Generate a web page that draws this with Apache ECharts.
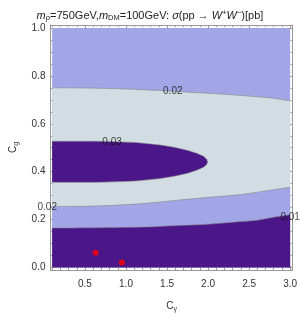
<!DOCTYPE html>
<html><head><meta charset="utf-8">
<script src="https://cdn.jsdelivr.net/npm/echarts@6/dist/echarts.min.js"></script>
<style>html,body{margin:0;padding:0;background:#fff}#c{width:300px;height:318px}</style>
</head><body><div id="c"></div>
<script>
// ---- data (C_gamma, C_g) ----
const topEdge = [[0.1,1.0],[3.0,1.0]];
const upper002 = [[0.1,0.75],[0.5,0.749],[1.0,0.745],[1.5,0.737],[2.0,0.727],[2.4,0.718],[2.8,0.706],[3.0,0.695]];
const ellipseUpper = [[0.1,0.527],[0.645,0.527],[1.107,0.522],[1.42,0.511],[1.6,0.501],[1.751,0.489],[1.869,0.476],[1.949,0.463],[1.982,0.452],[1.995,0.441]];
const ellipseLower = [[0.1,0.356],[0.645,0.356],[1.107,0.361],[1.42,0.372],[1.6,0.382],[1.751,0.394],[1.869,0.407],[1.949,0.42],[1.982,0.43],[1.995,0.441]];
const lower002 = [[0.1,0.255],[0.5,0.256],[0.8,0.259],[1.2,0.267],[1.6,0.28],[2.0,0.293],[2.4,0.305],[2.8,0.325],[3.0,0.335]];
const lower001 = [[0.1,0.165],[0.6,0.166],[1.2,0.169],[1.6,0.175],[2.0,0.181],[2.4,0.192],[2.6,0.198],[2.8,0.21],[3.0,0.22]];
const redPoints = [[0.63,0.062],[0.95,0.021]];
const contourLabelText = ['0.02','0.03','0.02','0.01'];
const contourLabelX = [1.57, 0.83, 0.04, 3.0];
const contourLabelY = [0.735, 0.522, 0.253, 0.212];
const xMajor = [0.5,1.0,1.5,2.0,2.5,3.0];
const xMinor = [0.1,0.2,0.3,0.4,0.6,0.7,0.8,0.9,1.1,1.2,1.3,1.4,1.6,1.7,1.8,1.9,2.1,2.2,2.3,2.4,2.6,2.7,2.8,2.9];
const yMajor = [0.0,0.2,0.4,0.6,0.8,1.0];
const yMinor = [0.05,0.1,0.15,0.25,0.3,0.35,0.45,0.5,0.55,0.65,0.7,0.75,0.85,0.9,0.95];

const DARK = '#4b1688', GRAY = '#d2dde3', PERI = '#a3a6e6';
const LINE = 'rgba(130,130,130,0.7)';
const FONT = 'Liberation Sans';
const X0 = 0.08, X1 = 3.03, Y0 = -0.01, Y1 = 1.012;

function area(data, color, lineW, z) {
  return {type:'line', data:data, smooth:0.3, symbol:'none', xAxisIndex:0, yAxisIndex:0, z:z,
    lineStyle:{width:lineW, color:LINE}, areaStyle:{color:color, opacity:1, origin:'auto'},
    silent:true, animation:false};
}
function outline(data) {
  return {type:'line', data:data, smooth:0.2, symbol:'none', xAxisIndex:0, yAxisIndex:0,
    lineStyle:{width:0.8, color:LINE}, silent:true, animation:false, z:4};
}
function xAx(pos, ticks, len, showLine, labels) {
  return {type:'value', position:pos, min:X0, max:X1, splitLine:{show:false},
    axisLine:{show:showLine, onZero:false, lineStyle:{color:'#999', width:1}},
    axisTick:{show:true, inside:true, length:len, customValues:ticks, lineStyle:{color:'#999'}},
    axisLabel: labels ? {show:true, customValues:ticks, formatter:v=>v.toFixed(1), color:'#333', fontSize:10, fontFamily:FONT, margin:9} : {show:false}};
}
function yAx(pos, ticks, len, showLine, labels) {
  return {type:'value', position:pos, min:Y0, max:Y1, splitLine:{show:false},
    axisLine:{show:showLine, onZero:false, lineStyle:{color:'#999', width:1}},
    axisTick:{show:true, inside:true, length:len, customValues:ticks, lineStyle:{color:'#999'}},
    axisLabel: labels ? {show:true, customValues:ticks, formatter:v=>v.toFixed(1), color:'#333', fontSize:10, fontFamily:FONT, margin:5} : {show:false}};
}
const subRich = {c:{fontSize:10, fontFamily:FONT, color:'#333'}, s:{fontSize:7, fontFamily:FONT, color:'#333', padding:[6,0,0,0]}};
const xAxes = [xAx('bottom', xMajor, 4, true, true), xAx('bottom', xMinor, 2, false, false),
               xAx('top', xMajor, 4, true, false), xAx('top', xMinor, 2, false, false)];
Object.assign(xAxes[0], {name:'{c|C}{s|γ}', nameLocation:'middle', nameGap:30, nameTextStyle:{color:'#333', fontFamily:FONT, rich:subRich}});
const yAxes = [yAx('left', yMajor, 4, true, true), yAx('left', yMinor, 2, false, false),
               yAx('right', yMajor, 4, true, false), yAx('right', yMinor, 2, false, false)];
Object.assign(yAxes[0], {name:'{c|C}{s|g}', nameLocation:'middle', nameGap:31, nameTextStyle:{color:'#333', fontFamily:FONT, rich:subRich}});

const labelData = contourLabelText.map((t,i)=>[contourLabelX[i], contourLabelY[i], t]);

const chart = echarts.init(document.getElementById('c'), null, {renderer:'canvas'});
chart.setOption({
  animation:false,
  backgroundColor:'#fff',
  title:{
    text:'{i|m}{sb|ρ}{n|=750GeV,}{i|m}{sb|DM}{n|=100GeV: }{i|σ}{n|(pp → }{i|W}{sp|+}{i|W}{sp|−}{n|)[pb]}',
    left:'center', top:3,
    textStyle:{fontSize:11, fontWeight:'normal', color:'#222', fontFamily:FONT,
      rich:{
        n:{fontSize:11, fontFamily:FONT, color:'#222', lineHeight:15},
        i:{fontSize:11, fontFamily:FONT, fontStyle:'italic', color:'#222', lineHeight:15},
        sb:{fontSize:7.5, fontFamily:FONT, color:'#222', lineHeight:15, padding:[5,0,0,0]},
        sp:{fontSize:7.5, fontFamily:FONT, color:'#222', lineHeight:15, padding:[0,0,5,0]}
      }}
  },
  grid:{left:44, right:5.5, top:25, bottom:44.5},
  xAxis: xAxes,
  yAxis: yAxes,
  series:[
    area(topEdge, PERI, 0, 1),
    area(upper002, GRAY, 0.8, 2),
    {type:'custom', data:[[1.0,0.45]], xAxisIndex:0, yAxisIndex:0, silent:true, z:3, clip:false,
      renderItem:function(params, api){
        const pts = ellipseUpper.concat(ellipseLower.slice().reverse()).map(p=>api.coord(p));
        return {type:'polygon', shape:{points:pts}, style:{fill:DARK, stroke:'none'}};
      }},
    outline(ellipseUpper),
    outline(ellipseLower),
    area(lower002, PERI, 0.8, 5),
    area(lower001, DARK, 0.8, 6),
    {type:'scatter', data:redPoints, symbolSize:6, itemStyle:{color:'#ff0000'}, silent:true, z:7},
    {type:'scatter', data:labelData, symbolSize:0, silent:true, z:8, clip:false,
      label:{show:true, position:'inside', formatter:p=>p.data[2], color:'#111', fontSize:10, fontFamily:FONT}}
  ]
});
</script></body></html>
